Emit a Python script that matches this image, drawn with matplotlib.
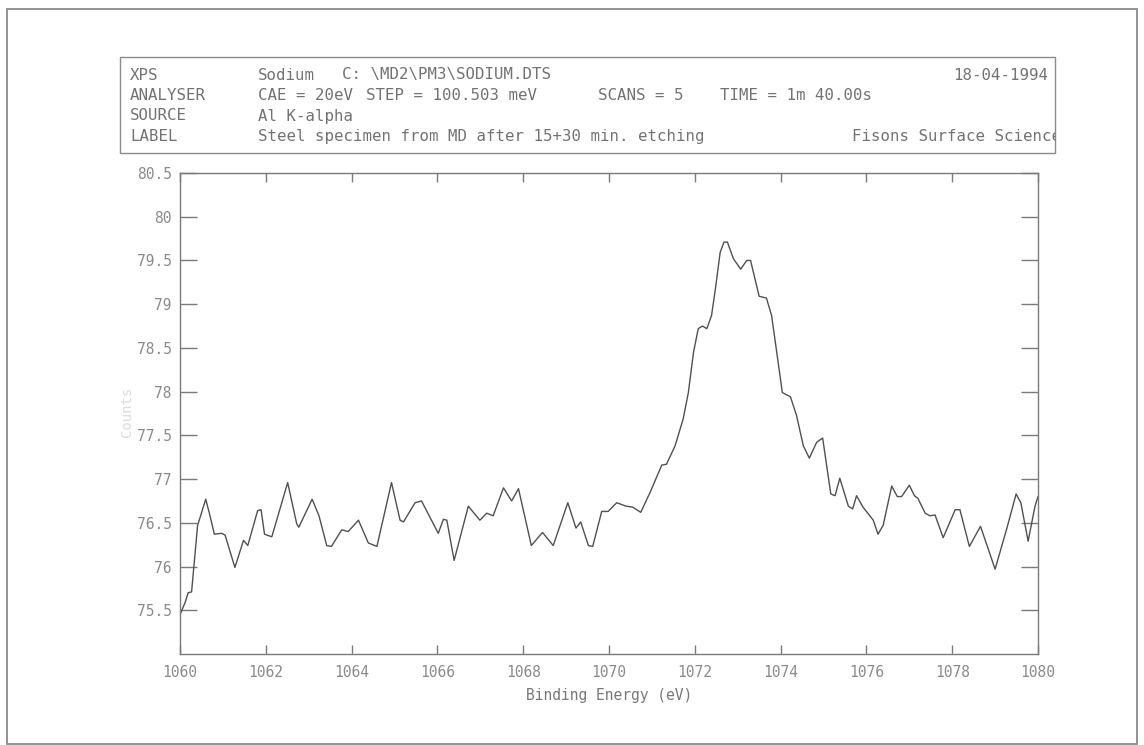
import matplotlib
matplotlib.use("Agg")
import matplotlib.pyplot as plt
from matplotlib.patches import Rectangle

# ---------------- data ----------------
energy_ev = [
    1060.00, 1060.12, 1060.19, 1060.27, 1060.41, 1060.60, 1060.70, 1060.80, 1060.97, 1061.05,
    1061.28, 1061.48, 1061.58, 1061.81, 1061.89, 1061.97, 1062.14, 1062.51, 1062.72, 1062.77,
    1063.08, 1063.24, 1063.42, 1063.53, 1063.77, 1063.92, 1064.16, 1064.39, 1064.59, 1064.93,
    1065.13, 1065.21, 1065.48, 1065.63, 1066.02, 1066.14, 1066.22, 1066.39, 1066.72, 1066.99,
    1067.15, 1067.30, 1067.54, 1067.73, 1067.89, 1068.19, 1068.45, 1068.70, 1069.04, 1069.23,
    1069.34, 1069.52, 1069.62, 1069.83, 1069.98, 1070.18, 1070.40, 1070.55, 1070.74, 1070.96,
    1071.23, 1071.34, 1071.54, 1071.73, 1071.85, 1071.97, 1072.08, 1072.18, 1072.28, 1072.39,
    1072.49, 1072.59, 1072.68, 1072.76, 1072.90, 1073.07, 1073.21, 1073.30, 1073.50, 1073.67,
    1073.79, 1073.91, 1074.04, 1074.23, 1074.37, 1074.53, 1074.67, 1074.84, 1074.98, 1075.17,
    1075.27, 1075.38, 1075.58, 1075.68, 1075.77, 1075.92, 1076.16, 1076.27, 1076.39, 1076.59,
    1076.72, 1076.82, 1077.00, 1077.12, 1077.20, 1077.37, 1077.48, 1077.60, 1077.79, 1078.07,
    1078.18, 1078.40, 1078.66, 1079.00, 1079.27, 1079.49, 1079.60, 1079.77, 1079.93, 1080.00,
]
counts = [
    75.45, 75.59, 75.70, 75.71, 76.47, 76.77, 76.58, 76.37, 76.38, 76.36,
    75.99, 76.30, 76.24, 76.64, 76.65, 76.37, 76.34, 76.96, 76.49, 76.45,
    76.77, 76.58, 76.24, 76.23, 76.42, 76.40, 76.53, 76.27, 76.23, 76.96,
    76.53, 76.51, 76.73, 76.75, 76.38, 76.54, 76.53, 76.07, 76.69, 76.53,
    76.61, 76.58, 76.90, 76.75, 76.89, 76.24, 76.39, 76.24, 76.73, 76.44,
    76.51, 76.24, 76.23, 76.63, 76.63, 76.73, 76.69, 76.68, 76.62, 76.85,
    77.16, 77.17, 77.38, 77.69, 77.99, 78.45, 78.72, 78.75, 78.72, 78.87,
    79.21, 79.59, 79.71, 79.71, 79.52, 79.40, 79.50, 79.50, 79.09, 79.07,
    78.87, 78.45, 77.99, 77.94, 77.73, 77.38, 77.24, 77.42, 77.47, 76.83,
    76.81, 77.01, 76.69, 76.66, 76.81, 76.68, 76.53, 76.37, 76.47, 76.92,
    76.80, 76.80, 76.93, 76.81, 76.78, 76.61, 76.58, 76.59, 76.33, 76.65,
    76.65, 76.23, 76.46, 75.97, 76.43, 76.83, 76.73, 76.29, 76.69, 76.80,
]
x_ticks = [1060, 1062, 1064, 1066, 1068, 1070, 1072, 1074, 1076, 1078, 1080]
x_tick_labels = ["1060", "1062", "1064", "1066", "1068", "1070", "1072", "1074", "1076", "1078", "1080"]
y_ticks = [75.5, 76, 76.5, 77, 77.5, 78, 78.5, 79, 79.5, 80, 80.5]
y_tick_labels = ["75.5", "76", "76.5", "77", "77.5", "78", "78.5", "79", "79.5", "80", "80.5"]

header_keys = ["XPS", "ANALYSER", "SOURCE", "LABEL"]
header_file = ["Sodium", "C: \\MD2\\PM3\\SODIUM.DTS", "18-04-1994"]
header_analyser = ["CAE = 20eV", "STEP = 100.503 meV", "SCANS = 5", "TIME = 1m 40.00s"]
header_source = "Al K-alpha"
header_label = "Steel specimen from MD after 15+30 min. etching"
header_company = "Fisons Surface Science"
x_label = "Binding Energy (eV)"
y_label = "Counts"

# ---------------- figure ----------------
W, H = 1144, 745
fig = plt.figure(figsize=(W / 100, H / 100), dpi=100)
fig.patch.set_facecolor("white")
MONO = ["DejaVu Sans Mono"]
TXT = "#727272"
LINE = "#7a7a7a"


def fx(px):
    return px / W


def fy(py):
    return 1 - py / H


# outer frame
fig.patches.append(Rectangle((fx(7), fy(744)), fx(1137) - fx(7), fy(9) - fy(744),
                             transform=fig.transFigure, fill=False, ec="#8a8a8a", lw=1.3))
# header box
hbox = Rectangle((fx(120), fy(153)), fx(1055) - fx(120), fy(57) - fy(153),
                 transform=fig.transFigure, fill=False, ec="#8a8a8a", lw=1.0)
fig.patches.append(hbox)

rows_y = [75, 95.5, 116, 136.5]
hs = 11.3
for key, ry in zip(header_keys, rows_y):
    fig.text(fx(130), fy(ry), key, family=MONO, fontsize=hs, color=TXT, va="center", ha="left")

fig.text(fx(258), fy(rows_y[0]), header_file[0], family=MONO, fontsize=hs, color=TXT, va="center")
fig.text(fx(342), fy(rows_y[0]), header_file[1], family=MONO, fontsize=hs, color=TXT, va="center")
fig.text(fx(1048), fy(rows_y[0]), header_file[2], family=MONO, fontsize=hs, color=TXT, va="center", ha="right")

for txt, px in zip(header_analyser, [258, 366, 598, 720]):
    fig.text(fx(px), fy(rows_y[1]), txt, family=MONO, fontsize=hs, color=TXT, va="center")

fig.text(fx(258), fy(rows_y[2]), header_source, family=MONO, fontsize=hs, color=TXT, va="center")
fig.text(fx(258), fy(rows_y[3]), header_label, family=MONO, fontsize=hs, color=TXT, va="center")
comp = fig.text(fx(852), fy(rows_y[3]), header_company, family=MONO, fontsize=hs, color=TXT,
                va="center", ha="left")
comp.set_clip_path(hbox)

# ---------------- axes ----------------
ax = fig.add_axes([fx(180), fy(654), fx(1038) - fx(180), fy(173) - fy(654)])
ax.plot(energy_ev, counts, color="#505050", lw=1.0)
ax.set_xlim(1060, 1080)
ax.set_ylim(75, 80.5)

ax.set_xticks(x_ticks)
ax.set_xticklabels(x_tick_labels)
ax.set_yticks(y_ticks)
ax.set_yticklabels(y_tick_labels)

for s in ax.spines.values():
    s.set_color(LINE)
    s.set_linewidth(1.0)

ax.tick_params(axis="x", which="both", direction="in", length=6.5, width=1.0, color=LINE,
               top=True, bottom=True, labelsize=10.5, labelcolor="#8a8a8a", pad=8)
ax.tick_params(axis="y", which="both", direction="in", length=12.5, width=1.0, color=LINE,
               left=True, right=True, labelsize=10.5, labelcolor="#8a8a8a", pad=6)
for lab in ax.get_xticklabels() + ax.get_yticklabels():
    lab.set_family(MONO)

ax.set_xlabel(x_label, family=MONO, fontsize=10.5, color="#777777", labelpad=6)
fig.text(fx(127), fy(412), y_label, family=MONO, fontsize=10, color="#dcdcdc",
         rotation=90, va="center", ha="center")

fig.savefig("out.png", dpi=100)
